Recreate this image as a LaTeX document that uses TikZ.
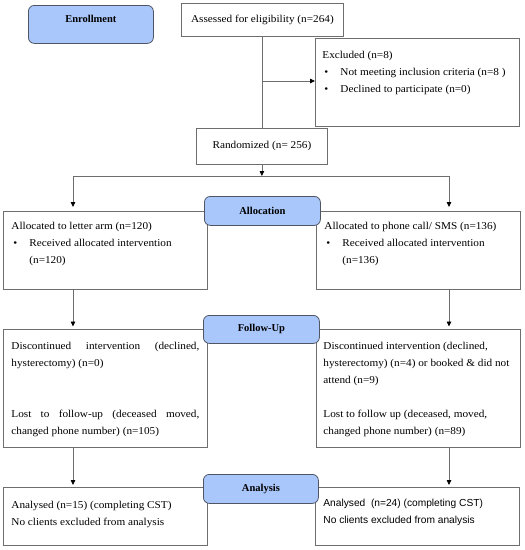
\documentclass[tikz,border=0pt]{standalone}
\usepackage{fontspec}
\setmainfont[FakeStretch=1.07]{Liberation Serif}
\newfontfamily\labelfont{Liberation Serif}
\newfontfamily\sansf{Liberation Sans}
\usetikzlibrary{arrows.meta}
\definecolor{bluef}{HTML}{A9C7FA}
\definecolor{blued}{HTML}{4F5563}
\definecolor{lg}{HTML}{6E6E6E}
\newcommand{\bul}{\par\hangindent=18pt\hangafter=1\noindent\makebox[18pt][l]{\hspace{2pt}\textbullet}}
\newcommand{\tb}[4]{\parbox[t][#1][t]{#2}{\raggedright\rule{0pt}{#3}#4}}
\begin{document}
\begin{tikzpicture}[x=1pt,y=-1pt,
  every node/.style={font=\fontsize{10.5pt}{17pt}\selectfont},
  box/.style={draw=lg, line width=0.8pt, inner sep=0pt, anchor=north west},
  phase/.style={draw=blued, fill=bluef, rounded corners=6pt, line width=0.8pt, inner sep=0pt, anchor=north west, font=\labelfont\fontsize{10.5pt}{17pt}\selectfont\bfseries},
  conn/.style={draw=lg, line width=0.8pt},
  arr/.style={conn, -{Triangle[length=5pt,width=4.5pt,color=black]}}]
\useasboundingbox (0,0) rectangle (525,550);
% boxes
\node[phase, minimum width=125pt, minimum height=38pt] (enr) at (28,5) {\parbox[t][38pt][t]{120pt}{\centering\rule{0pt}{17.5pt}Enrollment}};
\node[box, minimum width=162pt, minimum height=33pt] (ass) at (181,3) {Assessed for eligibility (n=264)};
\node[box, minimum width=204pt, minimum height=88pt] (ex) at (315,38) {\tb{88pt}{190pt}{20pt}{Excluded (n=8)\bul Not meeting inclusion criteria (n=8 )\bul Declined to participate (n=0)}};
\node[box, minimum width=131pt, minimum height=36pt] (rand) at (196,128) {Randomized (n= 256)};
\node[box, minimum width=204pt, minimum height=78pt] (la) at (3,211) {\tb{78pt}{188pt}{18pt}{Allocated to letter arm (n=120)\bul Received allocated intervention\newline(n=120)}};
\node[box, minimum width=204pt, minimum height=78pt] (ra) at (316,211) {\tb{78pt}{188pt}{18pt}{Allocated to phone call/ SMS (n=136)\bul Received allocated intervention\newline(n=136)}};
\node[box, minimum width=204pt, minimum height=118pt] (lf) at (3,329) {\tb{118pt}{188pt}{20pt}{Discontinued\hfill intervention\hfill (declined,\\hysterectomy) (n=0)\\[34pt]Lost\hfill to\hfill follow-up\hfill (deceased\hfill moved,\\changed phone number) (n=105)}};
\node[box, minimum width=204pt, minimum height=118pt] (rf) at (316,329) {\tb{118pt}{190pt}{20pt}{Discontinued intervention (declined,\\hysterectomy) (n=4) or booked \& did not\\attend (n=9)\\[17pt]Lost to follow up (deceased, moved,\\changed phone number) (n=89)}};
\node[box, minimum width=204pt, minimum height=58pt] (lan) at (3,487) {\tb{58pt}{188pt}{21pt}{Analysed (n=15) (completing CST)\\No clients excluded from analysis}};
\node[box, minimum width=204pt, minimum height=58pt] (ran) at (315,487) {\tb{58pt}{188pt}{19.5pt}{\sansf\fontsize{10.2pt}{17pt}\selectfont Analysed~ (n=24) (completing CST)\\No clients excluded from analysis}};
% phase labels
\node[phase, minimum width=116pt, minimum height=29pt] (alloc) at (204,196) {Allocation};
\node[phase, minimum width=116pt, minimum height=28pt] (fu) at (203,315) {Follow-Up};
\node[phase, minimum width=115pt, minimum height=29pt] (an) at (203,474) {Analysis};
% connectors
\coordinate (j) at (262,81);
\coordinate (hl) at (73,176);
\coordinate (hr) at (449,176);
\draw[conn] (ass.south) -- (ass.south |- rand.north);
\draw[arr] (j) -- (j -| ex.west);
\draw[conn] (hl) -- (hr);
\draw[arr] (rand.south) -- (rand.south |- hl);
\draw[arr, shorten >=4pt] (hl) -- (hl |- la.north);
\draw[arr, shorten >=4pt] (hr) -- (hr |- ra.north);
\draw[arr, shorten >=2.5pt] (la.south -| hl) -- (hl |- lf.north);
\draw[arr, shorten >=2.5pt] (ra.south -| hr) -- (hr |- rf.north);
\draw[arr, shorten >=2pt] (lf.south -| hl) -- (hl |- lan.north);
\draw[arr, shorten >=2pt] (rf.south -| hr) -- (hr |- ran.north);
\end{tikzpicture}
\end{document}
